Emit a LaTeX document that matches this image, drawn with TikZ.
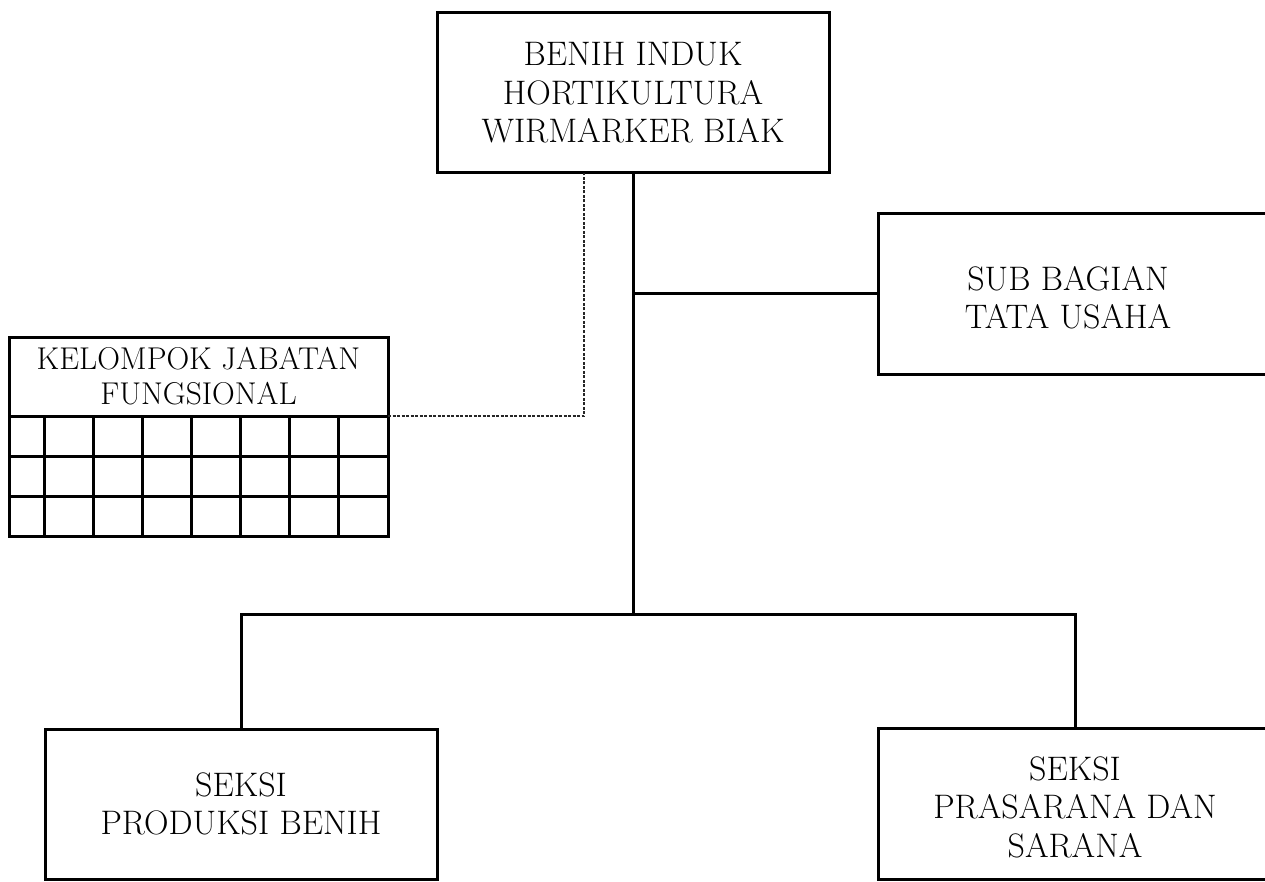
\documentclass[tikz,border=0pt]{standalone}
\usetikzlibrary{calc}
\begin{document}
\begin{tikzpicture}[x=1pt,y=-1pt,
  box/.style={draw=black,line width=3pt,inner sep=0pt,outer sep=0pt,align=center,font=\fontsize{34}{38.5}\selectfont},
  conn/.style={draw=black,line width=3pt},
  dline/.style={draw=black!85,line width=1.2pt,dash pattern=on 3pt off 1.5pt},
  lbl/.style={align=center,inner sep=0pt,font=\fontsize{34}{37.5}\selectfont}]
\useasboundingbox (0,0) rectangle (1265,882);
\clip (0,0) rectangle (1265,882);
% boxes
\node[box,minimum width=392pt,minimum height=160pt] (top) at (633,93) {BENIH INDUK\\HORTIKULTURA\\WIRMARKER BIAK};
\node[box,minimum width=392pt,minimum height=160pt] (sub) at (1074,294) {};
\node[lbl] (subtxt) at (1068,298) {SUB BAGIAN\\TATA USAHA};
\node[box,minimum width=392pt,minimum height=150pt] (lb) at (241,804) {SEKSI\\PRODUKSI BENIH};
\node[box,minimum width=394pt,minimum height=151pt] (rb) at (1075,803.5) {};
\node[lbl,font=\fontsize{34}{38.5}\selectfont] (rbtxt) at (1075,807) {SEKSI\\PRASARANA DAN\\SARANA};
% kelompok jabatan fungsional
\node[box,minimum width=379pt,minimum height=79pt,font=\fontsize{31.5}{35}\selectfont] (kjf) at (198.5,376.5) {KELOMPOK JABATAN\\FUNGSIONAL};
\draw[conn] (kjf.south west) rectangle (388,536);
\foreach \y in {456,496.5} \draw[conn] (9,\y) -- (388,\y);
\foreach \x in {44,93,142.2,191.3,240.5,289.7,338.8} \draw[conn] (\x,416) -- (\x,536);
% connectors
\coordinate (j) at (633,614);
\draw[conn] (top.south) -- (j);
\draw[conn] (top.south |- sub.west) -- (sub.west);
\draw[conn] (lb.north) |- (j) -| (rb.north);
\draw[dline] (kjf.south east) -| ($(top.south)+(-49,0)$);
\end{tikzpicture}
\end{document}
